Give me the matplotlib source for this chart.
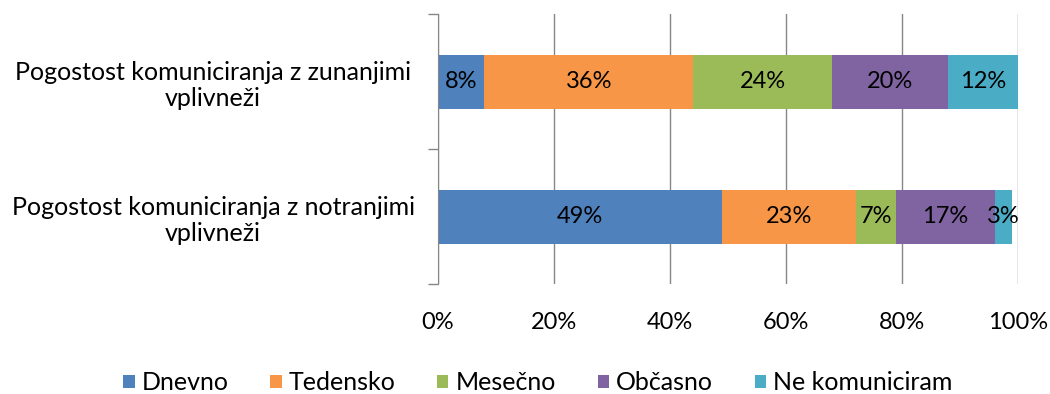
import matplotlib.pyplot as plt

plt.rcParams['font.family'] = ['Lato', 'DejaVu Sans']

categories = ['Pogostost komuniciranja z notranjimi\nvplivneži',
              'Pogostost komuniciranja z zunanjimi\nvplivneži']
series = ['Dnevno', 'Tedensko', 'Mesečno', 'Občasno', 'Ne komuniciram']
values = {
    'Dnevno': [49, 8],
    'Tedensko': [23, 36],
    'Mesečno': [7, 24],
    'Občasno': [17, 20],
    'Ne komuniciram': [3, 12],
}
colors = ['#4F81BD', '#F79646', '#9BBB59', '#8064A2', '#4BACC6']

fig = plt.figure(figsize=(10.5, 3.94), dpi=100)
ax = fig.add_axes([438 / 1050, 1 - 284 / 394, 580 / 1050, 270 / 394])

ypos = [0, 1]
left = [0, 0]
for name, col in zip(series, colors):
    vals = values[name]
    bars = ax.barh(ypos, vals, left=left, height=0.4, color=col, label=name, zorder=2)
    for b, v in zip(bars, vals):
        ax.text(b.get_x() + b.get_width() / 2, b.get_y() + b.get_height() / 2,
                f'{v}%', ha='center', va='center', fontsize=17, color='black', zorder=3)
    left = [l + v for l, v in zip(left, vals)]

ax.set_xlim(0, 100)
ax.set_ylim(-0.5, 1.5)
ax.set_xticks(range(0, 101, 20))
ax.set_xticklabels([f'{t}%' for t in range(0, 101, 20)], fontsize=17)
ax.grid(axis='x', color='#868686', linewidth=1, zorder=0)
ax.tick_params(axis='x', length=0, pad=20)

ax.set_yticks([-0.5, 0.5, 1.5])
ax.set_yticklabels([])
ax.set_yticks(ypos, minor=True)
ax.set_yticklabels(categories, minor=True, fontsize=18, ha='center')
ax.tick_params(axis='y', which='major', length=7, color='#868686', width=1)
ax.tick_params(axis='y', which='minor', length=0, pad=162)

for s in ['top', 'right', 'bottom']:
    ax.spines[s].set_visible(False)
ax.spines['left'].set_color('#868686')

fig.legend(loc='center', bbox_to_anchor=(538 / 1050, 1 - 383 / 394), ncol=5,
           frameon=False, fontsize=18, handlelength=0.45, handleheight=0.45,
           handletextpad=0.3, columnspacing=1.65)

fig.savefig('out.png')
